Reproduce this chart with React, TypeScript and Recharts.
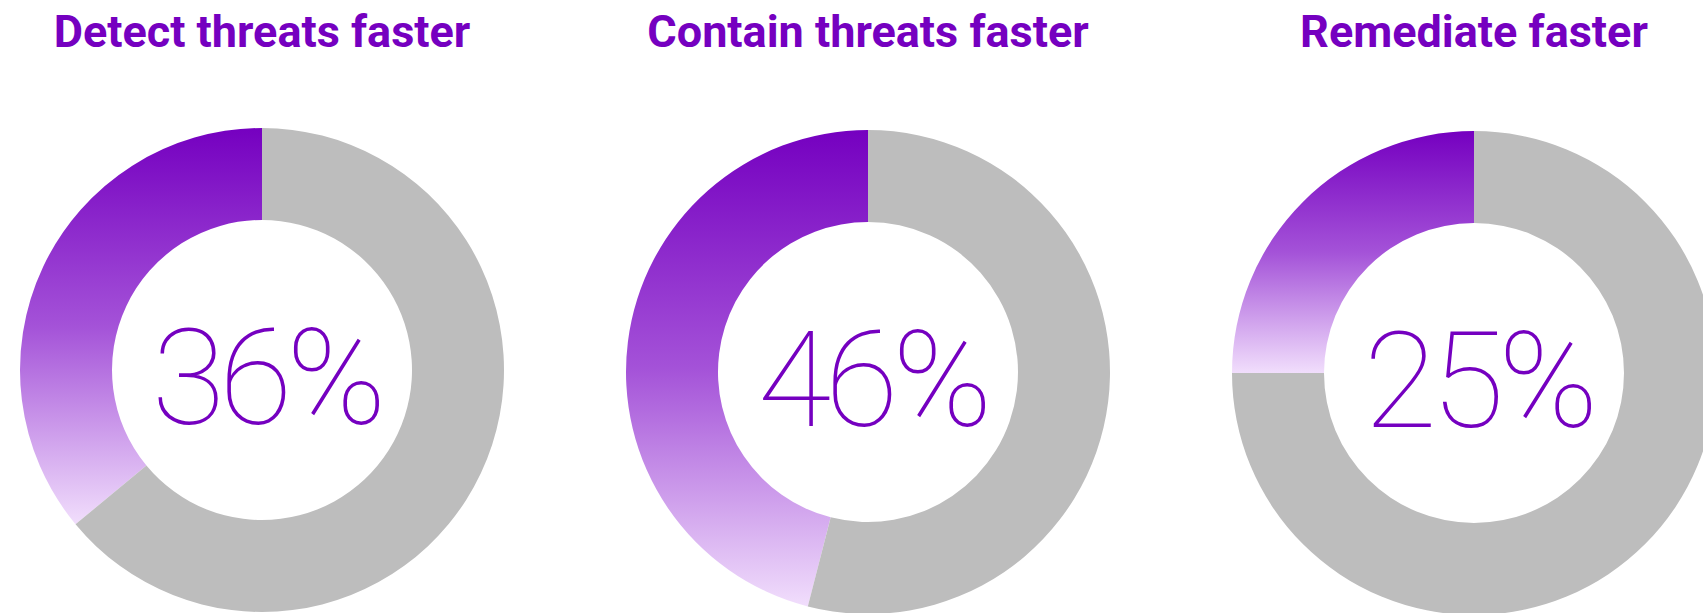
import React from "react";
import { PieChart, Pie, Cell, Label } from "recharts";

const titles = ["Detect threats faster", "Contain threats faster", "Remediate faster"];
const values = [36, 46, 25];
const valueLabels = ["36%", "46%", "25%"];
const centersX = [262, 868, 1474];
const centersY = [370, 372, 373];

const PURPLE = "#7500c0";
const GRAY = "#bdbdbd";

export default function App() {
  return (
    <div style={{ position: "absolute", left: 0, top: 0, width: 1703, height: 613, background: "#fff", overflow: "hidden" }}>
      <PieChart width={1703} height={613} margin={{ top: 0, right: 0, bottom: 0, left: 0 }}>
        <defs>
          <linearGradient id="purpleGrad" x1="0" y1="0" x2="0" y2="1">
            <stop offset="0%" stopColor="#7500c0" />
            <stop offset="50%" stopColor="#a452d8" />
            <stop offset="100%" stopColor="#f1defc" />
          </linearGradient>
        </defs>
        {values.map((v, i) => (
          <Pie
            key={i}
            data={[
              { name: "yes", value: v },
              { name: "no", value: 100 - v },
            ]}
            dataKey="value"
            cx={centersX[i]}
            cy={centersY[i]}
            innerRadius={150}
            outerRadius={242}
            startAngle={90}
            endAngle={450}
            stroke="none"
            isAnimationActive={false}
          >
            <Cell fill="url(#purpleGrad)" />
            <Cell fill={GRAY} />
            <Label
              position="center"
              content={() => (
                <text
                  x={centersX[i] + 4}
                  y={centersY[i] + 54}
                  textAnchor="middle"
                  fill={PURPLE}
                  fontFamily="Roboto"
                  fontWeight={100}
                  fontSize={134}
                  letterSpacing={-6}
                >
                  {valueLabels[i]}
                </text>
              )}
            />
          </Pie>
        ))}
      </PieChart>
      {titles.map((t, i) => (
        <div
          key={t}
          style={{
            position: "absolute",
            left: centersX[i] - 300,
            width: 600,
            top: 4,
            textAlign: "center",
            fontFamily: "Roboto",
            fontWeight: 700,
            fontSize: 45,
            color: PURPLE,
            lineHeight: "56px",
          }}
        >
          {t}
        </div>
      ))}
    </div>
  );
}
